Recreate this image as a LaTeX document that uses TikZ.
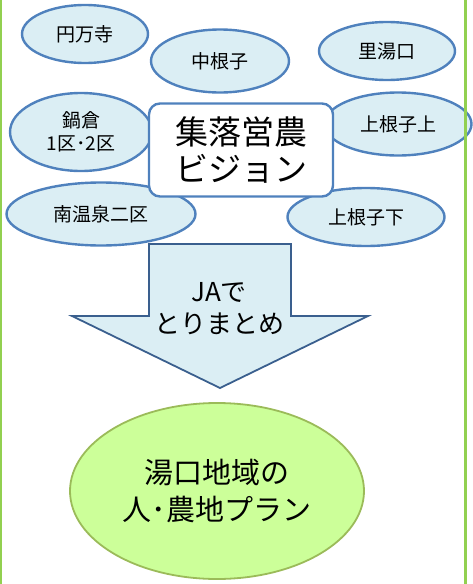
\documentclass[tikz,border=0pt]{standalone}
\usepackage{fontspec}
\setmainfont{Noto Sans CJK JP}
\usetikzlibrary{shapes.geometric}
\definecolor{ellfill}{HTML}{DBEEF4}
\definecolor{ellline}{HTML}{4F81BD}
\definecolor{arrline}{HTML}{3A5F8E}
\definecolor{planfill}{HTML}{CCFF99}
\definecolor{planline}{HTML}{9BBB59}
\definecolor{sideline}{HTML}{92D050}
\tikzset{
  village/.style={ellipse, draw=ellline, fill=ellfill, line width=2.4pt, inner sep=0pt,
    font=\fontsize{19}{23}\selectfont, align=center},
  visionbox/.style={draw=ellline, fill=white, line width=2.4pt, rounded corners=11pt,
    minimum width=184pt, minimum height=93pt, inner sep=0pt, align=center,
    font=\fontsize{33}{37}\selectfont},
  planell/.style={ellipse, draw=planline, fill=planfill, line width=1.8pt, inner sep=0pt,
    minimum width=294pt, minimum height=176pt, align=center,
    font=\fontsize{29}{37}\selectfont},
  arrowtext/.style={align=center, font=\fontsize{26}{32}\selectfont, inner sep=0pt}
}
\begin{document}
\begin{tikzpicture}[x=1pt,y=-1pt]
\useasboundingbox (0,0) rectangle (473,584);
% villages
\node[village, minimum width=126pt, minimum height=58pt] (enmanji) at (85,34) {円万寺};
\node[village, minimum width=138pt, minimum height=63pt] (nakanego) at (220,61) {中根子};
\node[village, minimum width=136pt, minimum height=58pt] (satoyu) at (387,51) {里湯口};
\node[village, minimum width=142pt, minimum height=78pt] (nabekura) at (81,132) {鍋倉\\1区･2区};
\node[village, minimum width=147pt, minimum height=63pt] (kaminegokami) at (398,124) {上根子上};
\node[village, minimum width=189pt, minimum height=63pt] (minami) at (101,214) {南温泉二区};
\node[village, minimum width=157pt, minimum height=58pt] (kaminegoshita) at (366,217) {上根子下};
% central box
\node[visionbox] (vision) at (241,150) {集落営農\\ビジョン};
% big arrow
\draw[fill=ellfill, draw=arrline, line width=1.8pt, line join=miter]
  (149,244) -- (291,244) -- (291,316) -- (368,316) -- (220,388) -- (72,316) -- (149,316) -- cycle;
\node[arrowtext] (ja) at (219,309) {JAで\\とりまとめ};
% plan
\node[planell] (plan) at (217,491) {湯口地域の\\人･農地プラン};
% side lines
\draw[sideline, line width=2.5pt] (1.2,0) -- (1.2,584);
\draw[sideline, line width=3pt] (465.5,0) -- (465.5,584);
\end{tikzpicture}
\end{document}
